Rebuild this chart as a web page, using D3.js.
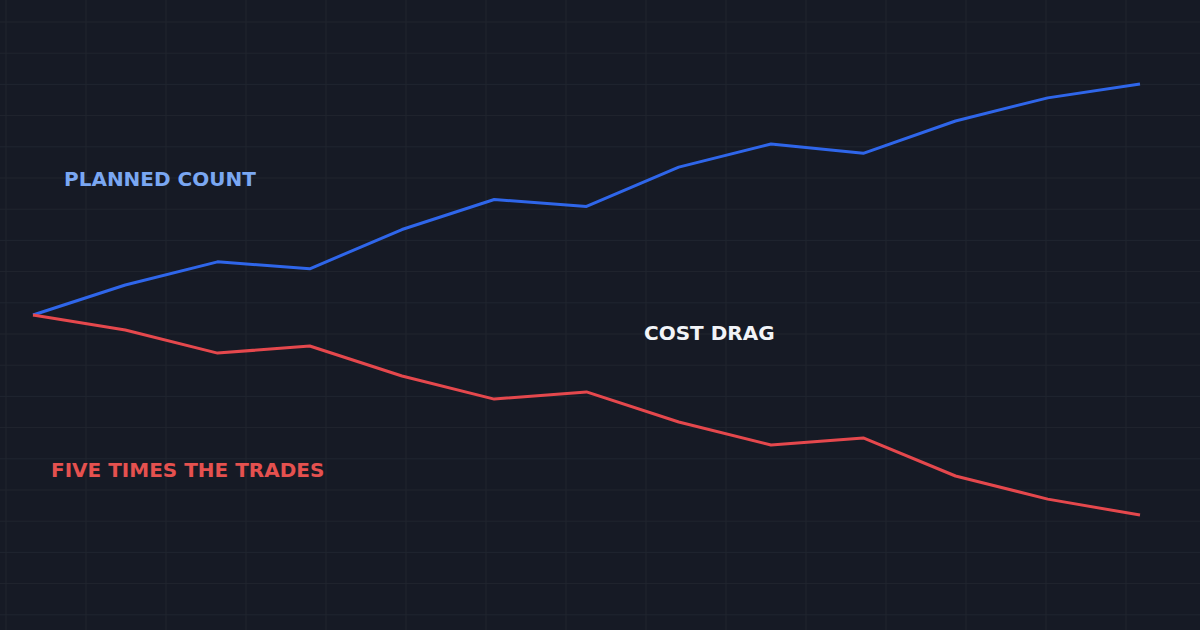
<!DOCTYPE html><html><head><meta charset="utf-8"><script src="https://cdn.jsdelivr.net/npm/d3@7"></script>
<style>body{margin:0;background:#161a25}</style></head><body><svg id="c" width="1200" height="630"></svg>
<script>
const steps=[0,1,2,3,4,5,6,7,8,9,10,11,12];
const planned=[100,113,123,120,137,150,147,164,174,170,184,194,200];
const fiveTimes=[100,93.5,83.5,86.6,73.6,63.6,66.7,53.7,43.7,46.8,30.3,20.3,13.4];
const svg=d3.select("#c");
svg.append("rect").attr("width",1200).attr("height",630).attr("fill","#161a25");
const x=d3.scaleLinear().domain([0,12]).range([33,1140]);
const y=d3.scaleLinear().domain([0,200]).range([546,84]);
const g=svg.append("g").attr("stroke","#20252f").attr("stroke-width",1);
d3.range(6,1200,80).forEach(v=>g.append("line").attr("x1",v).attr("x2",v).attr("y1",0).attr("y2",630));
d3.range(22,630,31.2).forEach(v=>g.append("line").attr("y1",v).attr("y2",v).attr("x1",0).attr("x2",1200));
const line=d3.line().x((d,i)=>x(steps[i])).y(d=>y(d));
svg.append("path").attr("d",line(planned)).attr("fill","none").attr("stroke","#2f66ea").attr("stroke-width",3).attr("stroke-linejoin","round");
svg.append("path").attr("d",line(fiveTimes)).attr("fill","none").attr("stroke","#e5484d").attr("stroke-width",3).attr("stroke-linejoin","round");
const t=(s,xx,yy,c)=>svg.append("text").text(s).attr("x",xx).attr("y",yy).attr("fill",c).attr("font-family","DejaVu Sans").attr("font-weight","bold").attr("font-size",20).attr("textLength",null);
t("PLANNED COUNT",64,186,"#7aa7f2");
t("COST DRAG",644,340,"#f2f4f8");
t("FIVE TIMES THE TRADES",51,477,"#e5514f");
</script></body></html>
